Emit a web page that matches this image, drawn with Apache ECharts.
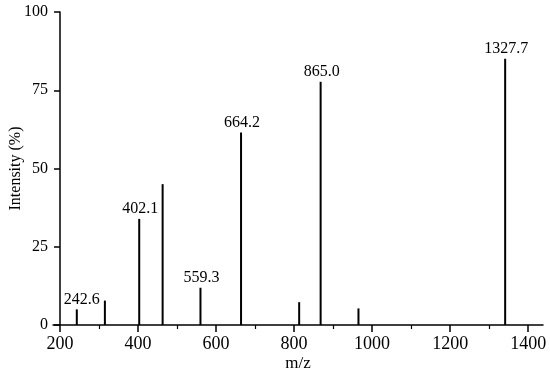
<!DOCTYPE html>
<html>
<head>
<meta charset="utf-8">
<script src="https://cdn.jsdelivr.net/npm/echarts@6/dist/echarts.min.js"></script>
<style>html,body{margin:0;padding:0;background:#fff;}#c{width:550px;height:375px;}</style>
</head>
<body>
<div id="c"></div>
<script>
// m/z positions of the peaks (as drawn) and their intensities (%)
const peakMz = [243, 315, 403, 463, 560, 664, 813, 868, 965, 1341];
const peakIntensity = [5.0, 7.8, 33.9, 45.0, 11.9, 61.5, 7.3, 77.7, 5.3, 85.1];
const peakLabels = ['242.6', '', '402.1', '', '559.3', '664.2', '', '865.0', '', '1327.7'];
const xMajorTicks = [200, 400, 600, 800, 1000, 1200, 1400];
const xMinorTicks = [300, 500, 700, 900, 1100, 1300];
const yTicks = [0, 25, 50, 75, 100];

const FONT = 'Liberation Serif';
const chart = echarts.init(document.getElementById('c'), null, {renderer: 'canvas'});

const data = peakMz.map((x, i) => {
  const item = {value: [x, peakIntensity[i]]};
  if (peakLabels[i]) {
    item.label = {show: true, formatter: peakLabels[i], offset: i === 0 ? [5, 0] : [1, 0]};
  }
  return item;
});

chart.setOption({
  animation: false,
  backgroundColor: '#fff',
  grid: {left: 53, right: 7, top: 12, bottom: 50, containLabel: false, outerBoundsMode: 'none'},
  xAxis: [{
    type: 'value', min: 182, max: 1438,
    name: 'm/z', nameLocation: 'middle', nameGap: 30, nameMoveOverlap: false,
    nameTextStyle: {fontFamily: FONT, fontSize: 17, color: '#000'},
    axisLine: {show: true, lineStyle: {color: '#000', width: 1.5}},
    axisTick: {show: true, customValues: xMajorTicks, length: 7, lineStyle: {color: '#000', width: 1.5}},
    axisLabel: {show: true, customValues: xMajorTicks, margin: 10, fontFamily: FONT, fontSize: 18, color: '#000',
      formatter: v => String(v)},
    splitLine: {show: false}
  }, {
    type: 'value', min: 182, max: 1438, position: 'bottom',
    axisLine: {show: false},
    axisTick: {show: true, customValues: xMinorTicks, length: 4, lineStyle: {color: '#000', width: 1.2}},
    axisLabel: {show: false},
    splitLine: {show: false}
  }],
  yAxis: {
    type: 'value', min: 0, max: 100, interval: 25, offset: -7,
    name: 'Intensity (%)', nameLocation: 'middle', nameGap: 36, nameRotate: 90, nameMoveOverlap: false,
    nameTextStyle: {fontFamily: FONT, fontSize: 16, color: '#000'},
    axisLine: {show: true, lineStyle: {color: '#000', width: 1.5}},
    axisTick: {show: true, length: 6, lineStyle: {color: '#000', width: 1.5}},
    axisLabel: {margin: 12, fontFamily: FONT, fontSize: 16, color: '#000',
      formatter: v => yTicks.includes(v) ? String(v) : ''},
    splitLine: {show: false}
  },
  series: [{
    type: 'bar',
    xAxisIndex: 0,
    barWidth: 2,
    itemStyle: {color: '#000'},
    label: {show: false, position: 'top', distance: 2, fontFamily: FONT, fontSize: 16, color: '#000'},
    data: data
  }]
});
</script>
</body>
</html>
